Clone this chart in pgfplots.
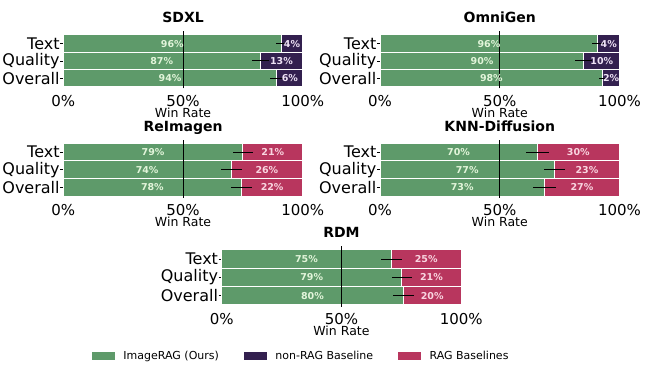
\documentclass[border=0pt]{standalone}
\usepackage{pgfplots}
\pgfplotsset{compat=1.18}
\usepackage{fontspec}
\setmainfont{DejaVu Sans}
\definecolor{cgreen}{HTML}{5E9A6A}
\definecolor{cdark}{HTML}{33204F}
\definecolor{cpink}{HTML}{B8365E}
\definecolor{lgreen}{HTML}{E2F5DA}
\definecolor{lpink}{HTML}{F9D5E0}
\definecolor{ldark}{HTML}{EEE2F5}
\newcommand{\tf}{\fontsize{16}{18}\selectfont}
\newcommand{\xf}{\fontsize{15}{17}\selectfont}
\pgfplotsset{
  wr/.style={
    scale only axis, width=239.5pt,
    xmin=0, xmax=100, ymin=-0.6, ymax=2.7,
    axis line style={draw=none},
    xtick={0,50,100}, xticklabels={{\xf 0\%},{\xf 50\%},{\xf 100\%}},
    ytick={0,1,2}, yticklabels={{\tf Overall},{\tf Quality},{\tf Text}},
    tick align=outside, major tick length=3pt,
    ytick pos=left, xtick pos=bottom,
    y tick style={black, line width=0.6pt},
    x tick style={draw=none},
    xticklabel style={inner sep=0pt, anchor=north, yshift=-3.5pt},
    yticklabel style={inner sep=0pt, anchor=east, xshift=-0.5pt},
    xlabel={\fontsize{12.5}{14}\selectfont Win Rate},
    xlabel style={at={(axis description cs:0.5,0)}, anchor=center, yshift=-24.5pt},
    title style={at={(0.5,1)}, anchor=base, yshift=2.5pt, inner sep=0pt, font=\bfseries\fontsize{14}{16}\selectfont},
    clip=false,
  },
  bgbar/.style={xbar, bar width=1, bar shift=0pt, draw=white, line width=1pt},
  errs/.style={draw=none, mark=none, error bars/x dir=both, error bars/x explicit, error bars/error mark=none,
    error bars/error bar style={draw=black, solid, line width=0.9pt}},
  lab/.style={only marks, mark=none, nodes near coords, point meta=explicit symbolic,
    nodes near coords style={anchor=center, inner sep=0pt, text=#1, font=\bfseries\fontsize{9.5}{10}\selectfont}},
}
\begin{document}
\begin{tikzpicture}
\useasboundingbox (0,0) rectangle (646pt,375pt);
% ---------- SDXL ----------
\begin{axis}[wr, at={(63.3pt,286.6pt)}, anchor=south west, height=56.9pt, title={SDXL}]
\addplot[bgbar, fill=cdark] coordinates {(100,0) (100,1) (100,2)};
\addplot[bgbar, fill=cgreen] coordinates {(89.2,0) (82.2,1) (91,2)};
\addplot[black, line width=0.9pt] coordinates {(50,-0.6) (50,2.7)};
\addplot[errs] coordinates {(89.2,0) +- (2.8,0) (82.2,1) +- (3.5,0) (91,2) +- (2,0)};
\addplot[lab=lgreen] coordinates {(44.6,0) [94\%] (41.1,1) [87\%] (45.5,2) [96\%]};
\addplot[lab=ldark] coordinates {(94.6,0) [6\%] (91.1,1) [13\%] (95.5,2) [4\%]};
\end{axis}
% ---------- OmniGen ----------
\begin{axis}[wr, at={(380pt,286.6pt)}, anchor=south west, height=56.9pt, title={OmniGen}]
\addplot[bgbar, fill=cdark] coordinates {(100,0) (100,1) (100,2)};
\addplot[bgbar, fill=cgreen] coordinates {(93,0) (85.1,1) (90.9,2)};
\addplot[black, line width=0.9pt] coordinates {(50,-0.6) (50,2.7)};
\addplot[errs] coordinates {(93,0) +- (1.7,0) (85.1,1) +- (3.6,0) (90.9,2) +- (2.5,0)};
\addplot[lab=lgreen] coordinates {(46.5,0) [98\%] (42.6,1) [90\%] (45.5,2) [96\%]};
\addplot[lab=ldark] coordinates {(96.5,0) [2\%] (92.6,1) [10\%] (95.5,2) [4\%]};
\end{axis}
% ---------- ReImagen ----------
\begin{axis}[wr, at={(63.3pt,177.2pt)}, anchor=south west, height=58pt, title={ReImagen}]
\addplot[bgbar, fill=cpink] coordinates {(100,0) (100,1) (100,2)};
\addplot[bgbar, fill=cgreen] coordinates {(74.3,0) (70.1,1) (75,2)};
\addplot[black, line width=0.9pt] coordinates {(50,-0.6) (50,2.7)};
\addplot[errs] coordinates {(74.3,0) +- (4.3,0) (70.1,1) +- (4.4,0) (75,2) +- (4.3,0)};
\addplot[lab=lgreen] coordinates {(37.2,0) [78\%] (35,1) [74\%] (37.5,2) [79\%]};
\addplot[lab=lpink] coordinates {(87.2,0) [22\%] (85,1) [26\%] (87.5,2) [21\%]};
\end{axis}
% ---------- KNN-Diffusion ----------
\begin{axis}[wr, at={(380pt,177.2pt)}, anchor=south west, height=58pt, title={KNN-Diffusion}]
\addplot[bgbar, fill=cpink] coordinates {(100,0) (100,1) (100,2)};
\addplot[bgbar, fill=cgreen] coordinates {(68.7,0) (72.8,1) (65.7,2)};
\addplot[black, line width=0.9pt] coordinates {(50,-0.6) (50,2.7)};
\addplot[errs] coordinates {(68.7,0) +- (4.7,0) (72.8,1) +- (4.4,0) (65.7,2) +- (4.8,0)};
\addplot[lab=lgreen] coordinates {(34.3,0) [73\%] (36.4,1) [77\%] (32.8,2) [70\%]};
\addplot[lab=lpink] coordinates {(84.3,0) [27\%] (86.4,1) [23\%] (82.8,2) [30\%]};
\end{axis}
% ---------- RDM ----------
\begin{axis}[wr, at={(221.7pt,68.2pt)}, anchor=south west, height=60.5pt, title={RDM},
  legend image code/.code={\fill[#1] (0pt,-3.5pt) rectangle (22pt,3.5pt);},
  legend columns=3, legend cell align=left,
  legend style={at={(-0.542,-0.813)}, anchor=west, draw=none, fill=none, inner xsep=0pt,
    font=\fontsize{11}{12}\selectfont,
    /tikz/every odd column/.append style={column sep=7pt},
    /tikz/every even column/.append style={column sep=23pt}}]
\addplot[bgbar, fill=cpink, forget plot] coordinates {(100,0) (100,1) (100,2)};
\addplot[bgbar, fill=cgreen, forget plot] coordinates {(75.9,0) (75.2,1) (70.9,2)};
\addplot[black, line width=0.9pt, forget plot] coordinates {(50,-0.6) (50,2.7)};
\addplot[errs, forget plot] coordinates {(75.9,0) +- (4.2,0) (75.2,1) +- (4.3,0) (70.9,2) +- (4.5,0)};
\addplot[lab=lgreen, forget plot] coordinates {(37.9,0) [80\%] (37.6,1) [79\%] (35.4,2) [75\%]};
\addplot[lab=lpink, forget plot] coordinates {(87.9,0) [20\%] (87.6,1) [21\%] (85.4,2) [25\%]};
\addlegendimage{cgreen}\addlegendentry{ImageRAG (Ours)}
\addlegendimage{cdark}\addlegendentry{non-RAG Baseline}
\addlegendimage{cpink}\addlegendentry{RAG Baselines}
\end{axis}
\end{tikzpicture}
\end{document}
